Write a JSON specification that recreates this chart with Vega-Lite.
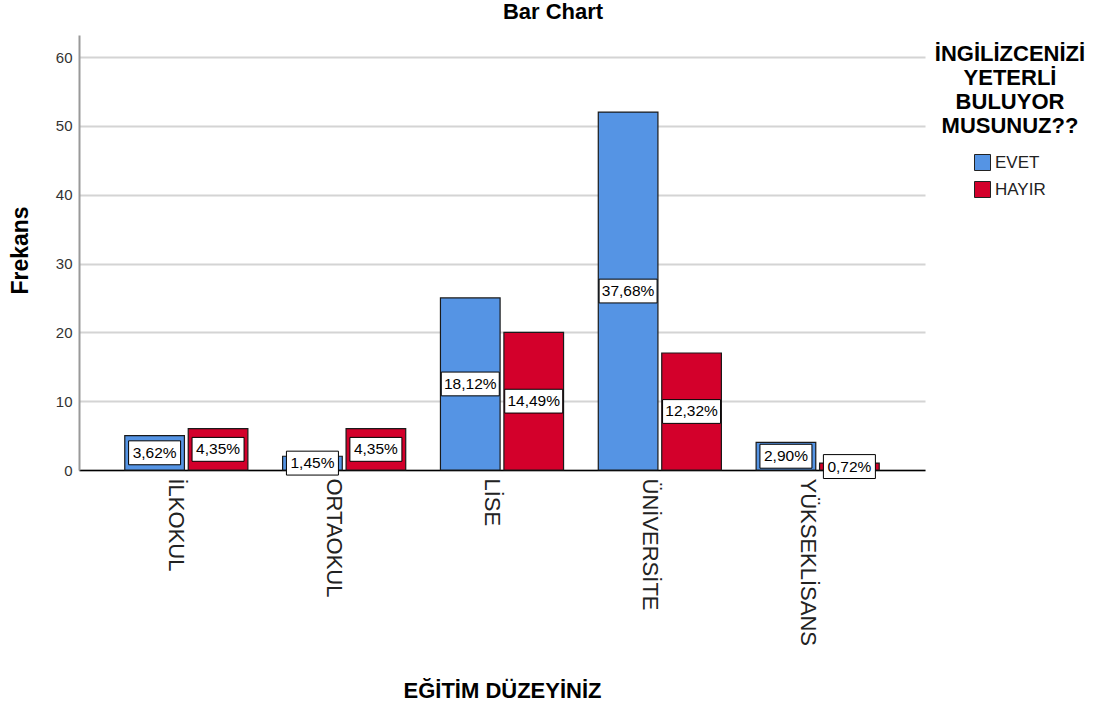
{
  "$schema": "https://vega.github.io/schema/vega-lite/v6.json",
  "autosize": {"type": "none"},
  "width": 846,
  "height": 435,
  "padding": {"left": 79, "top": 35, "right": 181, "bottom": 236},
  "background": "white",
  "config": {"font": "Liberation Sans", "view": {"stroke": null}},
  "title": {"text": "Bar Chart", "fontSize": 22, "fontWeight": "bold", "font": "Liberation Sans", "color": "black", "anchor": "middle", "dx": 51, "offset": 11},
  "data": {"values": [
    {"edu": "İLKOKUL", "ans": "EVET", "count": 5, "pct": "3,62%"},
    {"edu": "İLKOKUL", "ans": "HAYIR", "count": 6, "pct": "4,35%"},
    {"edu": "ORTAOKUL", "ans": "EVET", "count": 2, "pct": "1,45%"},
    {"edu": "ORTAOKUL", "ans": "HAYIR", "count": 6, "pct": "4,35%"},
    {"edu": "LİSE", "ans": "EVET", "count": 25, "pct": "18,12%"},
    {"edu": "LİSE", "ans": "HAYIR", "count": 20, "pct": "14,49%"},
    {"edu": "ÜNİVERSİTE", "ans": "EVET", "count": 52, "pct": "37,68%"},
    {"edu": "ÜNİVERSİTE", "ans": "HAYIR", "count": 17, "pct": "12,32%"},
    {"edu": "YÜKSEKLİSANS", "ans": "EVET", "count": 4, "pct": "2,90%"},
    {"edu": "YÜKSEKLİSANS", "ans": "HAYIR", "count": 1, "pct": "0,72%"}
  ]},
  "transform": [{"calculate": "datum.count / 2", "as": "mid"}],
  "encoding": {
    "x": {
      "field": "edu", "type": "nominal",
      "sort": ["İLKOKUL", "ORTAOKUL", "LİSE", "ÜNİVERSİTE", "YÜKSEKLİSANS"],
      "scale": {"paddingInner": 0.22, "paddingOuter": 0.29},
      "axis": {
        "title": "EĞİTİM DÜZEYİNİZ", "titleFontSize": 22, "titleFontWeight": "bold", "titleColor": "black",
        "titleY": 220, "titleBaseline": "middle",
        "labelAngle": 90, "labelAlign": "left", "labelBaseline": "top", "labelFontSize": 22, "labelColor": "#222",
        "labelPadding": 8, "ticks": false, "domainColor": "black", "domainWidth": 1.5, "grid": false
      }
    },
    "xOffset": {"field": "ans", "type": "nominal", "sort": ["EVET", "HAYIR"], "scale": {"paddingInner": 0.06}}
  },
  "layer": [
    {
      "mark": {"type": "bar", "stroke": "#1a1a1a", "strokeWidth": 1.2, "opacity": 1},
      "encoding": {
        "y": {
          "field": "count", "type": "quantitative",
          "scale": {"domain": [0, 63.2], "nice": false, "zero": true},
          "axis": {
            "title": "Frekans", "titleFontSize": 23, "titleFontWeight": "bold", "titleColor": "black",
            "titleX": -59, "titleY": 215, "titleAngle": -90, "titleBaseline": "middle", "titleAlign": "center",
            "values": [0, 10, 20, 30, 40, 50, 60], "labelFontSize": 15, "labelColor": "#333", "labelPadding": 7,
            "ticks": false, "domainColor": "#999", "domainWidth": 2,
            "grid": true, "gridColor": "#d4d4d4", "gridWidth": 2
          }
        },
        "color": {
          "field": "ans", "type": "nominal", "sort": ["EVET", "HAYIR"],
          "scale": {"domain": ["EVET", "HAYIR"], "range": ["#5594E4", "#D3002B"]},
          "legend": {
            "title": ["İNGİLİZCENİZİ", "YETERLİ", "BULUYOR", "MUSUNUZ??"],
            "orient": "none", "legendX": 856, "legendY": 9,
            "titleFontSize": 22, "titleFontWeight": "bold", "titleColor": "black", "titleLineHeight": 24,
            "titleAlign": "center", "titleAnchor": "middle", "titlePadding": 16,
            "symbolType": "square", "symbolSize": 256, "symbolStrokeColor": "#222", "symbolStrokeWidth": 1,
            "symbolOffset": 0, "labelOffset": 4, "labelFontSize": 17, "labelColor": "#222", "rowPadding": 6
          }
        }
      }
    },
    {
      "transform": [{"filter": "length(datum.pct) <= 5"}],
      "mark": {"type": "point", "shape": "M-1,-0.46L1,-0.46L1,0.46L-1,0.46Z", "size": 2704, "filled": true, "fill": "white", "stroke": "black", "strokeWidth": 1, "opacity": 1},
      "encoding": {"y": {"field": "mid", "type": "quantitative"}}
    },
    {
      "transform": [{"filter": "length(datum.pct) > 5"}],
      "mark": {"type": "point", "shape": "M-1,-0.41L1,-0.41L1,0.41L-1,0.41Z", "size": 3364, "filled": true, "fill": "white", "stroke": "black", "strokeWidth": 1, "opacity": 1},
      "encoding": {"y": {"field": "mid", "type": "quantitative"}}
    },
    {
      "mark": {"type": "text", "fontSize": 15.5, "color": "black", "baseline": "middle", "align": "center"},
      "encoding": {"y": {"field": "mid", "type": "quantitative"}, "text": {"field": "pct"}}
    }
  ]
}
